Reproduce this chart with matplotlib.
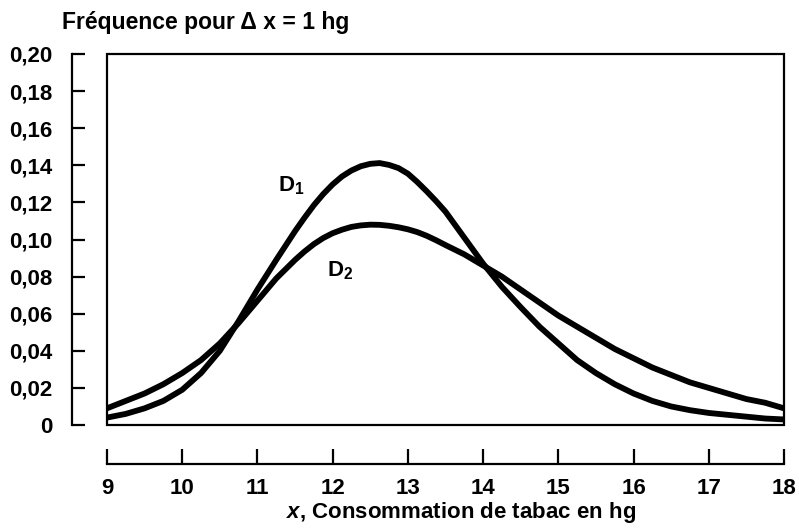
import matplotlib
matplotlib.use("Agg")
import matplotlib.pyplot as plt
from matplotlib.patches import Rectangle

plt.rcParams['font.family'] = ['Liberation Sans', 'DejaVu Sans']
plt.rcParams['font.weight'] = 'bold'
plt.rcParams['mathtext.fontset'] = 'custom'
plt.rcParams['mathtext.rm'] = 'Liberation Sans:bold'
plt.rcParams['mathtext.it'] = 'Liberation Sans:italic:bold'

# consommation de tabac (hg)
x = [9.0, 9.25, 9.5, 9.75, 10.0, 10.25, 10.5, 10.75, 11.0, 11.25, 11.5, 11.625, 11.75,
     11.875, 12.0, 12.125, 12.25, 12.375, 12.5, 12.625, 12.75, 12.875, 13.0, 13.125,
     13.25, 13.375, 13.5, 13.75, 14.0, 14.25, 14.5, 14.75,
     15.0, 15.25, 15.5, 15.75, 16.0, 16.25, 16.5, 16.75, 17.0, 17.25, 17.5, 17.75, 18.0]

# fréquences
d1 = [0.004, 0.006, 0.009, 0.013, 0.019, 0.028, 0.040, 0.056, 0.073, 0.089, 0.1045, 0.1117, 0.1185,
      0.1245, 0.1297, 0.134, 0.1372, 0.1395, 0.1408, 0.1412, 0.1402, 0.1385, 0.1355, 0.131,
      0.126, 0.1207, 0.115, 0.101, 0.087, 0.0745, 0.0635, 0.053,
      0.044, 0.035, 0.028, 0.022, 0.017, 0.013, 0.010, 0.008, 0.0065, 0.0055, 0.0045, 0.0035, 0.003]

d2 = [0.009, 0.013, 0.017, 0.022, 0.028, 0.035, 0.044, 0.055, 0.067, 0.079, 0.089, 0.0935, 0.0975,
      0.1008, 0.1034, 0.1053, 0.1068, 0.1076, 0.108, 0.1079, 0.1074, 0.1066, 0.1055, 0.104,
      0.102, 0.0996, 0.097, 0.092, 0.086, 0.080, 0.073, 0.066,
      0.059, 0.053, 0.047, 0.041, 0.036, 0.031, 0.027, 0.023, 0.020, 0.017, 0.014, 0.012, 0.009]

x_ticks = [9, 10, 11, 12, 13, 14, 15, 16, 17, 18]
y_ticks = [0, 0.02, 0.04, 0.06, 0.08, 0.10, 0.12, 0.14, 0.16, 0.18, 0.20]
y_labels = ["0", "0,02", "0,04", "0,06", "0,08", "0,10", "0,12", "0,14", "0,16", "0,18", "0,20"]

fig = plt.figure(figsize=(7.99, 5.32), dpi=100)
ax = fig.add_axes([0.1339, 0.2011, 0.8473, 0.6974])

ax.plot(x, d1, color="black", lw=4.2, solid_joinstyle="round")
ax.plot(x, d2, color="black", lw=4.2, solid_joinstyle="round")

ax.set_xlim(9, 18)
ax.set_ylim(0, 0.20)

# cadre du graphique
ax.add_patch(Rectangle((0, 0), 1, 1, transform=ax.transAxes, fill=False,
                       lw=1.6, color="black", clip_on=False, zorder=5))

# axes décalés
ax.spines["top"].set_visible(False)
ax.spines["right"].set_visible(False)
ax.spines["left"].set_position(("outward", 25))
ax.spines["bottom"].set_position(("outward", 28))
ax.spines["left"].set_bounds(0, 0.20)
ax.spines["bottom"].set_bounds(9, 18)
ax.spines["left"].set_linewidth(1.6)
ax.spines["bottom"].set_linewidth(1.6)

ax.set_xticks(x_ticks)
ax.set_yticks(y_ticks)
ax.set_yticklabels(y_labels)
ax.tick_params(axis="y", direction="in", length=9.5, width=1.6, pad=14, labelsize=16)
ax.tick_params(axis="x", direction="in", length=11, width=1.6, pad=10, labelsize=16)

ax.text(11.45, 0.129, "D$_1$", fontsize=16, ha="center", va="center")
ax.text(12.1, 0.083, "D$_2$", fontsize=16, ha="center", va="center")

fig.text(0.078, 0.958, "Fréquence pour Δ x = 1 hg", fontsize=16.5, ha="left", va="center")
fig.text(0.577, 0.037, "$x$, Consommation de tabac en hg", fontsize=16,
         ha="center", va="center")

fig.savefig("out.png", dpi=100)
